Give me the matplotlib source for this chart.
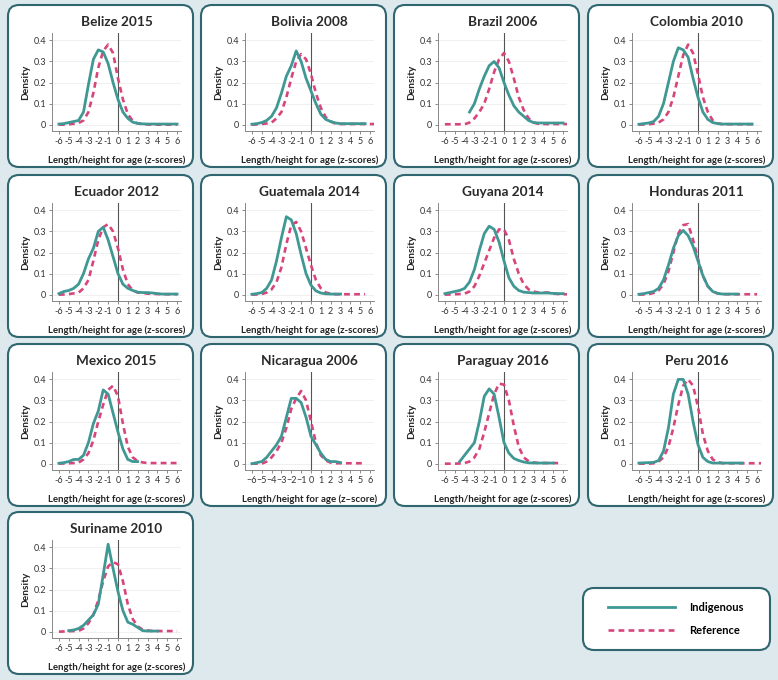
import numpy as np
import matplotlib
matplotlib.use("Agg")
import matplotlib.pyplot as plt
from matplotlib.patches import FancyBboxPatch
from matplotlib.lines import Line2D

plt.rcParams["font.family"] = ["Lato", "DejaVu Sans"]
plt.rcParams["axes.unicode_minus"] = False

# ---------- data (density of length/height-for-age z-scores) ----------------
Z = [-6, -5.5, -5, -4.5, -4, -3.5, -3, -2.5, -2, -1.5, -1, -0.5, 0,
     0.5, 1, 1.5, 2, 2.5, 3, 3.5, 4, 4.5, 5, 5.5, 6, 6.5]
N = None

titles = ["Belize 2015", "Bolivia 2008", "Brazil 2006", "Colombia 2010",
          "Ecuador 2012", "Guatemala 2014", "Guyana 2014", "Honduras 2011",
          "Mexico 2015", "Nicaragua 2006", "Paraguay 2016", "Peru 2016",
          "Suriname 2010"]

belize_ind = [0.003, 0.005, 0.01, 0.015, 0.02, 0.06, 0.19, 0.31, 0.355, 0.345, 0.29, 0.2, 0.12,
              0.06, 0.03, 0.012, 0.006, 0.004, 0.003, 0.003, 0.003, 0.003, 0.003, 0.003, 0.003, N]
belize_ref = [0, 0, 0.002, 0.004, 0.008, 0.02, 0.06, 0.15, 0.27, 0.35, 0.38, 0.34, 0.22,
              0.12, 0.05, 0.018, 0.006, 0.002, 0.001, 0, 0, 0, 0, 0, 0, N]
bolivia_ind = [0.002, 0.005, 0.01, 0.02, 0.04, 0.08, 0.15, 0.23, 0.28, 0.35, 0.3, 0.22, 0.16,
               0.1, 0.05, 0.025, 0.015, 0.008, 0.005, 0.005, 0.005, 0.005, 0.005, 0.005, N, N]
bolivia_ref = [0, 0.001, 0.003, 0.006, 0.01, 0.03, 0.06, 0.13, 0.22, 0.3, 0.335, 0.31, 0.24,
               0.15, 0.08, 0.035, 0.015, 0.005, 0.003, 0.003, 0.003, 0.003, 0.003, 0.003, 0.003, 0.003]
brazil_ind = [N, N, N, N, N, 0.06, 0.1, 0.17, 0.23, 0.28, 0.3, 0.27, 0.2,
              0.14, 0.09, 0.06, 0.04, 0.02, 0.01, 0.008, 0.008, 0.008, 0.008, 0.008, 0.008, N]
brazil_ref = [0.002, 0.002, 0.002, 0.002, 0.002, 0.01, 0.03, 0.06, 0.1, 0.17, 0.25, 0.31, 0.34,
              0.3, 0.22, 0.13, 0.07, 0.03, 0.01, 0.004, 0.003, 0.003, 0.003, 0.003, 0.003, 0.003]
colombia_ind = [0.002, 0.005, 0.008, 0.015, 0.04, 0.1, 0.2, 0.3, 0.365, 0.355, 0.32, 0.22, 0.13,
                0.06, 0.025, 0.01, 0.005, 0.003, 0.003, 0.003, 0.003, 0.003, 0.003, 0.003, N, N]
colombia_ref = [0, 0.001, 0.002, 0.005, 0.01, 0.025, 0.06, 0.13, 0.23, 0.33, 0.38, 0.34, 0.24,
                0.13, 0.06, 0.02, 0.006, 0.002, 0.002, 0.002, 0.002, 0.002, 0.002, 0.002, 0.002, N]
ecuador_ind = [0.005, 0.015, 0.02, 0.03, 0.05, 0.1, 0.17, 0.22, 0.3, 0.32, 0.26, 0.18, 0.1,
               0.05, 0.03, 0.02, 0.012, 0.01, 0.01, 0.008, 0.005, 0.003, 0.003, 0.003, 0.003, N]
ecuador_ref = [0, 0.001, 0.003, 0.006, 0.01, 0.03, 0.07, 0.16, 0.26, 0.32, 0.335, 0.3, 0.22,
               0.12, 0.05, 0.02, 0.01, 0.008, 0.005, 0.004, 0.003, 0.002, 0.002, 0.002, 0.002, N]
guatemala_ind = [0.002, 0.005, 0.01, 0.03, 0.07, 0.16, 0.27, 0.37, 0.355, 0.29, 0.19, 0.1, 0.045,
                 0.018, 0.008, 0.004, 0.003, 0.003, 0.003, N, N, N, N, N, N, N]
guatemala_ref = [0, 0.001, 0.003, 0.01, 0.025, 0.06, 0.13, 0.24, 0.33, 0.345, 0.3, 0.22, 0.14,
                 0.07, 0.03, 0.01, 0.005, 0.002, 0.002, 0.002, 0.002, 0.002, 0.002, 0.002, N, N]
guyana_ind = [0.005, 0.01, 0.015, 0.02, 0.03, 0.06, 0.12, 0.21, 0.29, 0.325, 0.31, 0.25, 0.16,
              0.08, 0.04, 0.02, 0.012, 0.01, 0.008, 0.008, 0.008, 0.008, 0.006, 0.005, 0.005, N]
guyana_ref = [0, 0.001, 0.002, 0.003, 0.005, 0.015, 0.04, 0.09, 0.15, 0.21, 0.27, 0.31, 0.31,
              0.26, 0.17, 0.1, 0.05, 0.025, 0.015, 0.01, 0.01, 0.01, 0.005, 0.003, 0.002, 0.002]
honduras_ind = [0.002, 0.005, 0.01, 0.015, 0.03, 0.07, 0.14, 0.22, 0.28, 0.305, 0.28, 0.23, 0.16,
                0.09, 0.04, 0.015, 0.006, 0.003, 0.003, 0.003, 0.003, N, N, N, N, N]
honduras_ref = [0, 0.001, 0.003, 0.008, 0.02, 0.05, 0.11, 0.2, 0.29, 0.33, 0.335, 0.26, 0.17,
                0.09, 0.04, 0.015, 0.006, 0.002, 0.002, 0.002, 0.002, 0.002, 0.002, 0.002, 0.002, N]
mexico_ind = [0.002, 0.005, 0.01, 0.02, 0.02, 0.04, 0.1, 0.19, 0.25, 0.35, 0.33, 0.24, 0.15,
              0.07, 0.02, 0.01, 0.01, N, N, N, N, N, N, N, N, N]
mexico_ref = [0, 0.001, 0.002, 0.003, 0.005, 0.02, 0.05, 0.11, 0.2, 0.28, 0.35, 0.37, 0.32,
              0.19, 0.08, 0.03, 0.012, 0.006, 0.003, 0.003, 0.003, 0.003, 0.003, 0.003, 0.003, N]
nicaragua_ind = [0, 0.005, 0.01, 0.03, 0.06, 0.09, 0.13, 0.22, 0.31, 0.31, 0.29, 0.22, 0.13,
                 0.09, 0.05, 0.02, 0.01, 0.01, 0.005, N, N, N, N, N, N, N]
nicaragua_ref = [0, 0, 0, 0.01, 0.03, 0.06, 0.1, 0.17, 0.26, 0.31, 0.345, 0.3, 0.2,
                 0.1, 0.04, 0.015, 0.005, 0.002, 0.002, 0.002, 0.002, 0.002, 0.002, 0.002, N, N]
paraguay_ind = [N, N, N, 0.01, 0.04, 0.07, 0.1, 0.2, 0.32, 0.355, 0.33, 0.22, 0.1,
                0.05, 0.025, 0.015, 0.008, 0.004, 0.003, 0.003, 0.003, 0.003, 0.003, N, N, N]
paraguay_ref = [0, 0, 0, 0.001, 0.003, 0.01, 0.03, 0.07, 0.15, 0.24, 0.33, 0.38, 0.375,
                0.3, 0.18, 0.08, 0.03, 0.012, 0.006, 0.003, 0.003, 0.003, 0.003, 0.003, N, N]
peru_ind = [0.003, 0.004, 0.005, 0.006, 0.015, 0.06, 0.17, 0.33, 0.4, 0.4, 0.33, 0.2, 0.09,
            0.03, 0.01, 0.003, 0.003, 0.003, 0.003, 0.003, 0.003, 0.003, N, N, N, N]
peru_ref = [0, 0, 0, 0.002, 0.01, 0.03, 0.08, 0.17, 0.28, 0.37, 0.4, 0.37, 0.27,
            0.14, 0.06, 0.02, 0.008, 0.002, 0.002, 0.002, 0.002, 0.002, 0.002, 0.002, 0.002, 0.002]
suriname_ind = [N, N, 0.005, 0.008, 0.015, 0.03, 0.055, 0.08, 0.13, 0.27, 0.415, 0.3, 0.19,
                0.1, 0.045, 0.035, 0.02, 0.005, 0.003, 0.003, 0.003, N, N, N, N, N]
suriname_ref = [0, 0.001, 0.002, 0.003, 0.004, 0.015, 0.04, 0.08, 0.15, 0.24, 0.31, 0.33, 0.32,
                0.24, 0.13, 0.06, 0.025, 0.01, 0.006, 0.003, 0.003, 0.003, 0.003, 0.003, 0.003, N]

indigenous = [belize_ind, bolivia_ind, brazil_ind, colombia_ind, ecuador_ind, guatemala_ind,
              guyana_ind, honduras_ind, mexico_ind, nicaragua_ind, paraguay_ind, peru_ind,
              suriname_ind]
reference = [belize_ref, bolivia_ref, brazil_ref, colombia_ref, ecuador_ref, guatemala_ref,
             guyana_ref, honduras_ref, mexico_ref, nicaragua_ref, paraguay_ref, peru_ref,
             suriname_ref]

x_ticks = [-6, -5, -4, -3, -2, -1, 0, 1, 2, 3, 4, 5, 6]
y_ticks = [0, 0.1, 0.2, 0.3, 0.4]
y_tick_labels = ["0", "0.1", "0.2", "0.3", "0.4"]
x_label = "Length/height for age (z-scores)"

# ---------- styling --------------------------------------------------------
BG = "#dde9ec"
BORDER = "#2f6670"
TEAL = "#3f9894"
PINK = "#d8457c"
W, H = 778, 680

col_x = [8, 201, 394, 588]
row_y = [5, 175, 344, 512]
box_w, box_h = 185, 162

fig = plt.figure(figsize=(W / 100, H / 100), dpi=100, facecolor=BG)

# background axes in pixel coordinates, for the rounded panel boxes
bg = fig.add_axes([0, 0, 1, 1])
bg.set_xlim(0, W)
bg.set_ylim(H, 0)
bg.axis("off")


def rounded_box(x, y, w, h):
    bg.add_patch(FancyBboxPatch((x, y), w, h,
                                boxstyle="round,pad=0,rounding_size=11",
                                facecolor="white", edgecolor=BORDER, linewidth=1.5))


z = np.array(Z, dtype=float)
for i, title in enumerate(titles):
    r, c = divmod(i, 4)
    px, py = col_x[c], row_y[r]
    rounded_box(px, py, box_w, box_h)

    left, top, aw, ah = px + 44, py + 28, 129, 98
    ax = fig.add_axes([left / W, 1 - (top + ah) / H, aw / W, ah / H])
    ax.set_facecolor("none")

    ind = np.array([np.nan if v is None else v for v in indigenous[i]])
    ref = np.array([np.nan if v is None else v for v in reference[i]])
    ax.axvline(0, color="#555555", lw=0.8, zorder=1)
    ax.plot(z, ref, color=PINK, lw=1.9, dashes=(2.2, 1.6), zorder=2)
    ax.plot(z, ind, color=TEAL, lw=2.0, solid_joinstyle="round", zorder=3)

    ax.set_xlim(-6.7, 6.4)
    ax.set_ylim(-0.03, 0.435)
    ax.set_xticks(x_ticks)
    if title.startswith("Nicaragua"):
        ax.set_xticklabels([str(t).replace("-", "\u2212") for t in x_ticks])
    ax.set_yticks(y_ticks)
    ax.set_yticklabels(y_tick_labels)
    ax.tick_params(labelsize=6.5, length=2.5, width=0.6, color="#777777",
                   labelcolor="#333333", pad=1.5)
    ax.grid(axis="y", color="#eeeeee", lw=0.6)
    ax.set_axisbelow(True)
    for s in ["top", "right"]:
        ax.spines[s].set_visible(False)
    for s in ["left", "bottom"]:
        ax.spines[s].set_color("#888888")
        ax.spines[s].set_linewidth(0.7)

    ax.set_title(title, fontsize=9.8, fontweight="bold", color="#2a2a2a", pad=5)
    ax.set_ylabel("Density", fontsize=7.3, fontweight="bold", color="#222222", labelpad=3)
    xl = "Length/height for age (z\u2013score)" if title.startswith("Nicaragua") else x_label
    ax.set_xlabel(xl, fontsize=6.9, fontweight="bold", color="#222222", labelpad=7)

# ---------- legend ---------------------------------------------------------
rounded_box(583, 588, 187, 62)
handles = [Line2D([], [], color=TEAL, lw=2.0),
           Line2D([], [], color=PINK, lw=1.9, dashes=(2.2, 1.6))]
fig.legend(handles, ["Indigenous", "Reference"], loc="center",
           bbox_to_anchor=(676 / W, 1 - 619 / H), frameon=False,
           prop={"weight": "bold", "size": 8}, handlelength=6.0,
           handletextpad=1.3, labelspacing=1.1)

fig.savefig("out.png", dpi=100, facecolor=BG)
